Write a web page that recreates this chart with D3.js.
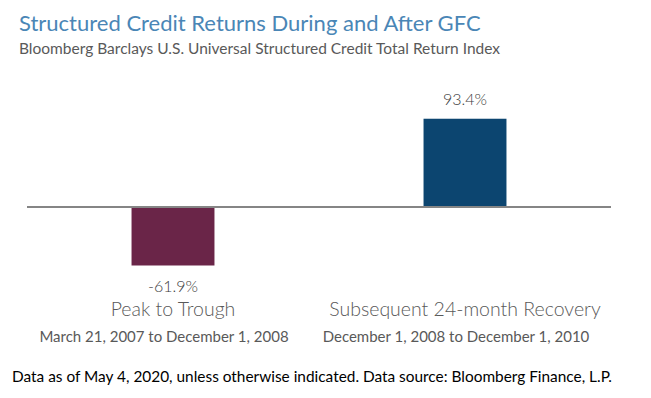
<!DOCTYPE html>
<html>
<head>
<meta charset="utf-8">
<script src="https://cdn.jsdelivr.net/npm/d3@7"></script>
<style>
  body { margin: 0; background: #fff; }
  svg { display: block; font-family: Lato, "Open Sans", sans-serif; }
</style>
</head>
<body>
<svg id="chart" width="651" height="398"></svg>
<script>
const categories = ["Peak to Trough", "Subsequent 24-month Recovery"];
const periods = ["March 21, 2007 to December 1, 2008", "December 1, 2008 to December 1, 2010"];
const returns = [-61.9, 93.4];
const barColors = ["#6a2548", "#0c4570"];

const title = "Structured Credit Returns During and After GFC";
const subtitle = "Bloomberg Barclays U.S. Universal Structured Credit Total Return Index";
const footnote = "Data as of May 4, 2020, unless otherwise indicated. Data source: Bloomberg Finance, L.P.";

const svg = d3.select("#chart"),
  left = 27,
  right = 611,
  zeroY = 207,
  pxPerPct = 0.945;

const x = d3.scaleBand()
  .domain(categories)
  .range([left, right])
  .paddingInner(0.716)
  .paddingOuter(0.358);

const y = d3.scaleLinear()
  .domain([-100, 100])
  .range([zeroY + 100 * pxPerPct, zeroY - 100 * pxPerPct]);

svg.append("text")
  .attr("x", 19)
  .attr("y", 31)
  .attr("fill", "#4a86b6")
  .attr("font-size", "22px")
  .text(title);

svg.append("text")
  .attr("x", 19)
  .attr("y", 54)
  .attr("fill", "#595959")
  .attr("font-size", "15.5px")
  .text(subtitle);

// bars
svg.append("g")
  .selectAll("rect")
  .data(returns)
  .enter()
  .append("rect")
  .attr("x", (d, i) => x(categories[i]))
  .attr("width", x.bandwidth())
  .attr("y", (d) => Math.min(y(d), y(0)))
  .attr("height", (d) => Math.abs(y(d) - y(0)))
  .attr("fill", (d, i) => barColors[i]);

// zero line
svg.append("line")
  .attr("x1", left)
  .attr("x2", right)
  .attr("y1", y(0))
  .attr("y2", y(0))
  .attr("stroke", "#858585")
  .attr("stroke-width", 2);

// value labels
svg.append("g")
  .selectAll("text")
  .data(returns)
  .enter()
  .append("text")
  .attr("x", (d, i) => x(categories[i]) + x.bandwidth() / 2)
  .attr("y", (d) => (d < 0 ? y(d) + 27 : y(d) - 14))
  .attr("text-anchor", "middle")
  .attr("fill", "#404040")
  .attr("font-size", "16px")
  .attr("font-weight", 300)
  .text((d) => d.toFixed(1) + "%");

// category labels
svg.append("g")
  .selectAll("text")
  .data(categories)
  .enter()
  .append("text")
  .attr("x", (d) => x(d) + x.bandwidth() / 2)
  .attr("y", 316)
  .attr("text-anchor", "middle")
  .attr("fill", "#595959")
  .attr("font-size", "19.5px")
  .attr("font-weight", 300)
  .text((d) => d);

svg.append("g")
  .selectAll("text")
  .data(periods)
  .enter()
  .append("text")
  .attr("x", (d, i) => x(categories[i]) + x.bandwidth() / 2 - 9)
  .attr("y", 342)
  .attr("text-anchor", "middle")
  .attr("fill", "#595959")
  .attr("font-size", "15px")
  .text((d) => d);

svg.append("text")
  .attr("x", 12)
  .attr("y", 382)
  .attr("fill", "#000")
  .attr("font-size", "15.4px")
  .text(footnote);
</script>
</body>
</html>
